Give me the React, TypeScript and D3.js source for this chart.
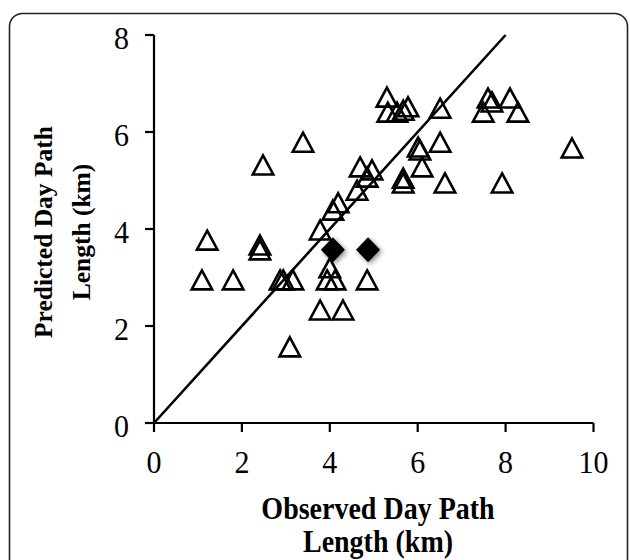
import React from "react";
import * as d3 from "d3";

const observed = [
  1.21, 1.09, 1.8, 2.41, 2.41, 2.48, 2.87, 2.94, 3.16, 3.09, 3.39, 3.78, 4.3, 3.78, 3.94,
  4.12, 4.0, 4.85, 4.07, 4.19, 4.62, 4.69, 4.96, 4.85, 5.3, 5.32, 5.53, 5.67, 5.78, 6.51,
  6.51, 6.01, 6.05, 6.1, 5.67, 5.67, 6.62, 7.92, 7.49, 7.6, 7.69, 8.1, 8.28, 9.51,
];
const predicted = [
  3.77, 2.95, 2.95, 3.67, 3.57, 5.32, 2.95, 2.95, 2.95, 1.57, 5.79, 2.33, 2.33, 3.98, 2.95,
  2.95, 3.2, 2.95, 4.39, 4.54, 4.8, 5.28, 5.22, 5.07, 6.72, 6.41, 6.41, 6.45, 6.52, 6.49,
  5.79, 5.69, 5.63, 5.28, 5.05, 4.95, 4.95, 4.95, 6.41, 6.7, 6.62, 6.7, 6.41, 5.67,
];
const specialObserved = [4.07, 4.87];
const specialPredicted = [3.57, 3.57];
const lineX = [0, 8];
const lineY = [0, 8];
const xTicks = [0, 2, 4, 6, 8, 10];
const yTicks = [0, 2, 4, 6, 8];

const W = 630;
const H = 560;

export default function App() {
  const x = d3.scaleLinear().domain([0, 10]).range([154, 593.5]);
  const y = d3.scaleLinear().domain([0, 8]).range([423, 35]);
  const pts = observed.map((o, i) => [o, predicted[i]] as [number, number]);
  const diam = specialObserved.map((o, i) => [o, specialPredicted[i]] as [number, number]);
  const line = d3
    .line<number>()
    .x((d) => x(d))
    .y((_, i) => y(lineY[i]))(lineX);
  const serif = "'Liberation Serif', 'Times New Roman', serif";
  const tw = 20.5;
  const th = 19;
  const triPath = `M0,${-th / 2}L${tw / 2},${th / 2}L${-tw / 2},${th / 2}Z`;
  return (
    <svg
      width={W}
      height={H}
      style={{ position: "absolute", left: 0, top: 0, background: "#fff" }}
      fontFamily={serif}
    >
      <defs>
        <filter id="sh" x="-50%" y="-50%" width="200%" height="200%">
          <feGaussianBlur in="SourceAlpha" stdDeviation="2.5" />
          <feOffset dx="2" dy="2" result="b" />
          <feComponentTransfer>
            <feFuncA type="linear" slope="0.45" />
          </feComponentTransfer>
          <feMerge>
            <feMergeNode />
            <feMergeNode in="SourceGraphic" />
          </feMerge>
        </filter>
      </defs>
      <rect x={9.5} y={13.5} width={618} height={570} rx={13} ry={13} fill="none" stroke="#222" strokeWidth={1.6} />
      {/* axes */}
      <line x1={x(0)} x2={x(10)} y1={y(0)} y2={y(0)} stroke="#000" strokeWidth={2.2} />
      <line x1={x(0)} x2={x(0)} y1={y(0)} y2={y(8)} stroke="#000" strokeWidth={2.2} />
      {xTicks.map((t) => (
        <g key={"x" + t}>
          <line x1={x(t)} x2={x(t)} y1={y(0)} y2={y(0) + 9} stroke="#000" strokeWidth={2.2} />
          <text
            transform={`translate(${x(t)},473) scale(1,1.08)`}
            textAnchor="middle"
            fontSize={30}
            fill="#000"
          >
            {t}
          </text>
        </g>
      ))}
      {yTicks.map((t) => (
        <g key={"y" + t}>
          <line x1={x(0) - 9} x2={x(0)} y1={y(t)} y2={y(t)} stroke="#000" strokeWidth={2.2} />
          <text
            transform={`translate(129,${y(t) + 14}) scale(1,1.08)`}
            textAnchor="end"
            fontSize={30}
            fill="#000"
          >
            {t}
          </text>
        </g>
      ))}
      {/* 1:1 line */}
      <path d={line || ""} fill="none" stroke="#000" strokeWidth={2.6} />
      {/* triangles */}
      {pts.map((p, i) => (
        <path
          key={"t" + i}
          d={triPath}
          transform={`translate(${x(p[0])},${y(p[1])})`}
          fill="none"
          stroke="#000"
          strokeWidth={2.6}
          strokeLinejoin="miter"
        />
      ))}
      {/* diamonds */}
      {diam.map((p, i) => (
        <path
          key={"d" + i}
          d="M0,-12.5L12,0L0,12.5L-12,0Z"
          transform={`translate(${x(p[0])},${y(p[1])})`}
          fill="#000"
          filter="url(#sh)"
        />
      ))}
      {/* axis titles */}
      <text
        transform="translate(378,519) scale(1,1.12)"
        textAnchor="middle"
        fontSize={28}
        fontWeight="bold"
        fill="#000"
      >
        Observed Day Path
      </text>
      <text
        transform="translate(378,552) scale(1,1.12)"
        textAnchor="middle"
        fontSize={28}
        fontWeight="bold"
        fill="#000"
      >
        Length (km)
      </text>
      <g transform="translate(52,232) rotate(-90)">
        <text x={0} y={0} textAnchor="middle" fontSize={25.5} fontWeight="bold" fill="#000">
          Predicted Day Path
        </text>
      </g>
      <g transform="translate(90,232) rotate(-90)">
        <text x={0} y={0} textAnchor="middle" fontSize={25.5} fontWeight="bold" fill="#000">
          Length (km)
        </text>
      </g>
    </svg>
  );
}
